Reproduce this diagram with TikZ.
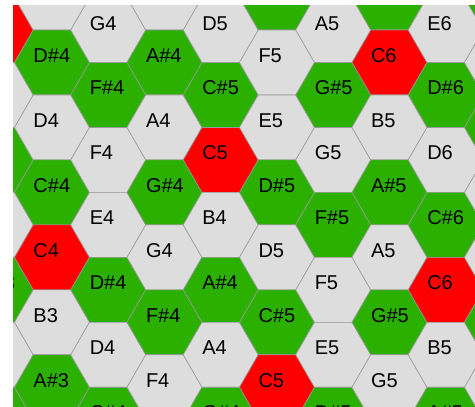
\documentclass[tikz,border=0pt]{standalone}
\usepackage{fontspec}
\setmainfont{Liberation Sans}
\usetikzlibrary{shapes.geometric}
\definecolor{hexgray}{HTML}{DDDDDD}
\definecolor{hexgreen}{HTML}{2CB000}
\definecolor{hexred}{HTML}{FF0000}
\definecolor{hexline}{HTML}{999999}
\colorlet{pc0}{hexred}
\colorlet{pc1}{hexgreen}
\colorlet{pc2}{hexgray}
\colorlet{pc3}{hexgreen}
\colorlet{pc4}{hexgray}
\colorlet{pc5}{hexgray}
\colorlet{pc6}{hexgreen}
\colorlet{pc7}{hexgray}
\colorlet{pc8}{hexgreen}
\colorlet{pc9}{hexgray}
\colorlet{pc10}{hexgreen}
\colorlet{pc11}{hexgray}
\newcommand\pitchname[1]{\ifcase#1 C\or C\#\or D\or D\#\or E\or F\or F\#\or G\or G\#\or A\or A\#\or B\fi}
\begin{document}
\begin{tikzpicture}[x=1pt,y=-1pt,
  hexcell/.style={regular polygon, regular polygon sides=6, minimum size=75pt,
    inner sep=0pt, outer sep=0pt, draw=hexline, line width=0.6pt},
  notelabel/.style={anchor=base west, inner sep=0pt,
    font=\fontsize{20}{24}\selectfont, text=black}]
\useasboundingbox (0,0) rectangle (475,407);
\fill[white] (0,0) rectangle (475,407);
\begin{scope}
\clip (13,5) rectangle (475,407);
\foreach \k in {-1,...,8}{
  \foreach \m in {-3,...,11}{
    \pgfmathtruncatemacro\parity{mod(\k+\m+20,2)}
    \ifnum\parity=0
      \pgfmathtruncatemacro\notenum{(126+7*\k-\m)/2}
      \pgfmathtruncatemacro\pc{mod(\notenum,12)}
      \pgfmathtruncatemacro\oc{floor(\notenum/12)-1}
      \pgfmathtruncatemacro\kk{\k+1}
      \pgfmathtruncatemacro\mm{\m+3}
      \node[hexcell, fill=pc\pc] (h\kk x\mm) at ({52+56.25*\k},{62.5+32.475*\m}) {};
      \node[notelabel] (t\kk x\mm) at ({33.3+56.25*\k},{62.5+32.475*\m}) {\pitchname{\pc}\oc};
    \fi
  }
}
\end{scope}
\end{tikzpicture}
\end{document}
